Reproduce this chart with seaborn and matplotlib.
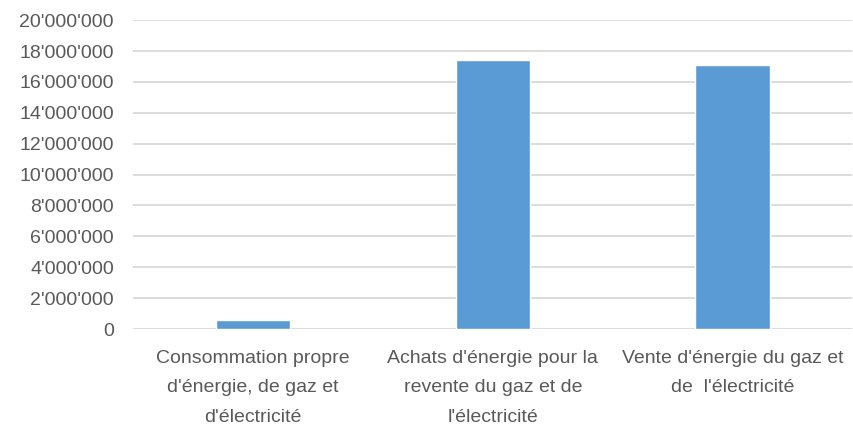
import matplotlib
matplotlib.use('Agg')
import matplotlib.pyplot as plt
import seaborn as sns
import pandas as pd
from matplotlib.ticker import FuncFormatter, MultipleLocator

categories = ["Consommation propre\nd'énergie, de gaz et\nd'électricité",
              "Achats d'énergie pour la\nrevente du gaz et de\nl'électricité",
              "Vente d'énergie du gaz et\nde  l'électricité"]
values = [560000, 17400000, 17080000]

df = pd.DataFrame({'cat': categories, 'val': values})

sns.set_style('white')
plt.rcParams['font.family'] = ['Liberation Sans', 'DejaVu Sans']

fig = plt.figure(figsize=(8.54, 4.29), dpi=100)
ax = fig.add_axes([0.156, 0.233, 0.842, 0.72])

sns.barplot(data=df, x='cat', y='val', color='#5B9BD5', width=0.31,
            saturation=1, ax=ax, zorder=3)

ax.set_ylim(0, 20000000)
ax.set_xlim(-0.5, 2.5)
ax.yaxis.set_major_locator(MultipleLocator(2000000))
ax.yaxis.set_major_formatter(FuncFormatter(lambda v, p: f"{int(v):,}".replace(',', "'")))
ax.grid(axis='y', color='#D9D9D9', linewidth=1.3, zorder=0)
ax.set_axisbelow(True)
for s in ax.spines.values():
    s.set_visible(False)
ax.set_xlabel('')
ax.set_ylabel('')
ax.tick_params(axis='both', length=0, colors='#595959', labelsize=14)
ax.tick_params(axis='x', pad=15)
ax.tick_params(axis='y', pad=14)
for lab in ax.get_xticklabels():
    lab.set_linespacing(1.95)

fig.savefig('out.png', dpi=100)
